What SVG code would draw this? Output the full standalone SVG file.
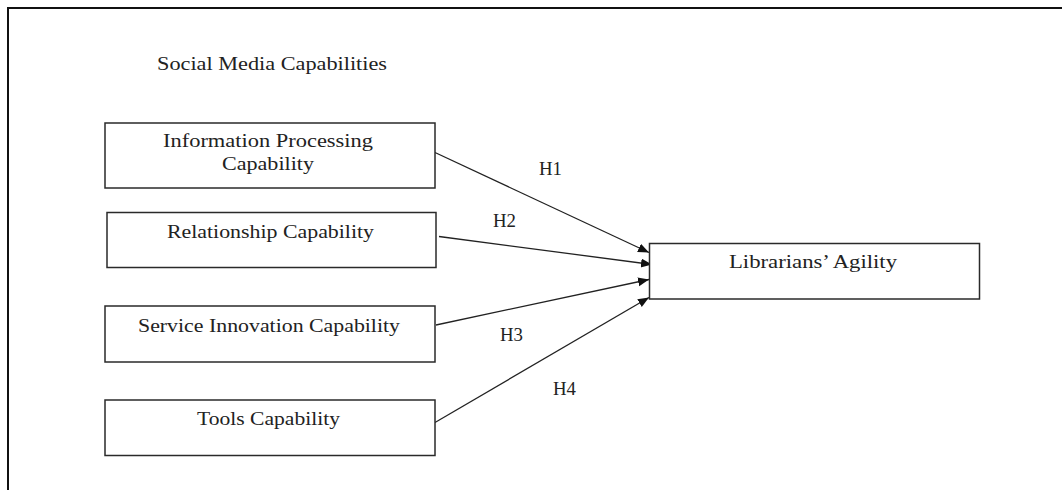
<svg xmlns="http://www.w3.org/2000/svg" width="1062" height="490" viewBox="0 0 1062 490">
  <style>
    .box { fill: #ffffff; stroke: #2a2a2a; stroke-width: 1.5; }
    .lbl { font-family: "Liberation Serif", "Times New Roman", serif; font-size: 19px; fill: #222222; }
    .edge { stroke: #222222; stroke-width: 1.3; fill: none; marker-end: url(#arrow); }
    .frame { stroke: #111111; stroke-width: 2; fill: none; }
  </style>
  <defs>
    <marker id="arrow" markerUnits="userSpaceOnUse" markerWidth="12" markerHeight="10" refX="11" refY="4.5" orient="auto">
      <path d="M0,0 L11,4.5 L0,9 z" fill="#111111"/>
    </marker>
  </defs>
  <rect width="1062" height="490" fill="#ffffff"/>
  <g id="frame">
    <path class="frame" d="M8,490 L8,8 L1062,8"/>
  </g>
  <g id="title">
    <text class="lbl" x="157" y="69.5" textLength="230" lengthAdjust="spacingAndGlyphs">Social Media Capabilities</text>
  </g>
  <g id="connectors">
    <line class="edge" x1="435" y1="152.5" x2="649" y2="252.5"/>
    <line class="edge" x1="439" y1="236.5" x2="652" y2="264.5"/>
    <line class="edge" x1="436" y1="325" x2="649" y2="279.5"/>
    <line class="edge" x1="435" y1="422.5" x2="649" y2="297.5"/>
    <text class="lbl" x="539" y="175" textLength="23" lengthAdjust="spacingAndGlyphs">H1</text>
    <text class="lbl" x="493" y="226.5" textLength="23" lengthAdjust="spacingAndGlyphs">H2</text>
    <text class="lbl" x="500" y="340.5" textLength="23" lengthAdjust="spacingAndGlyphs">H3</text>
    <text class="lbl" x="553" y="395" textLength="23" lengthAdjust="spacingAndGlyphs">H4</text>
  </g>
  <g id="node-info-processing">
    <rect class="box" x="105" y="123" width="330" height="65"/>
    <text class="lbl" x="163" y="147" textLength="210" lengthAdjust="spacingAndGlyphs">Information Processing</text>
    <text class="lbl" x="222" y="170" textLength="92" lengthAdjust="spacingAndGlyphs">Capability</text>
  </g>
  <g id="node-relationship">
    <rect class="box" x="107" y="212.5" width="329" height="55"/>
    <text class="lbl" x="167" y="237.5" textLength="207" lengthAdjust="spacingAndGlyphs">Relationship Capability</text>
  </g>
  <g id="node-service-innovation">
    <rect class="box" x="105" y="306" width="330" height="56"/>
    <text class="lbl" x="138" y="331.5" textLength="262" lengthAdjust="spacingAndGlyphs">Service Innovation Capability</text>
  </g>
  <g id="node-tools">
    <rect class="box" x="105" y="400" width="330" height="55.5"/>
    <text class="lbl" x="197" y="425" textLength="143" lengthAdjust="spacingAndGlyphs">Tools Capability</text>
  </g>
  <g id="node-librarians-agility">
    <rect class="box" x="649.5" y="243.5" width="330" height="55.5"/>
    <text class="lbl" x="729" y="268" textLength="168" lengthAdjust="spacingAndGlyphs">Librarians’ Agility</text>
  </g>
</svg>
